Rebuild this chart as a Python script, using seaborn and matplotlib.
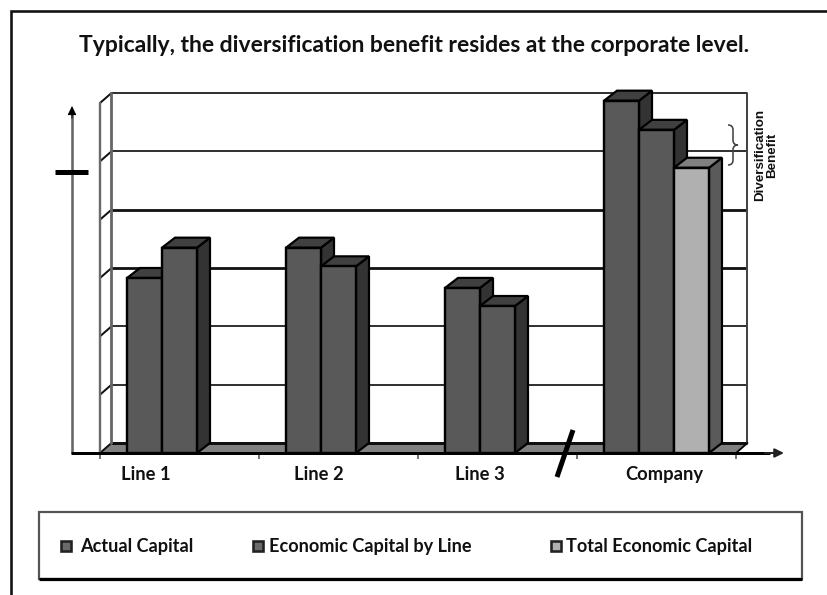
import matplotlib
matplotlib.use("Agg")
import matplotlib.pyplot as plt
from matplotlib.patches import Polygon, Rectangle, PathPatch
from matplotlib.path import Path
import pandas as pd
import seaborn as sns

# ---- data ----
categories = ["Line 1", "Line 2", "Line 3", "Company"]
series_names = ["Actual Capital", "Economic Capital by Line", "Total Economic Capital"]
actual_capital = [3.0, 3.52, 2.83, 6.04]
economic_by_line = [3.52, 3.2, 2.52, 5.54]
total_economic = [None, None, None, 4.89]
title = "Typically, the diversification benefit resides at the corporate level."
side_note = "Diversification\nBenefit"

sns.set_theme(style="white")
FONT = "Lato"
W, H = 828, 595
fig = plt.figure(figsize=(W / 100, H / 100), dpi=100, facecolor="white")
px = 0.72  # one pixel in points

# ---- tidy table ----
rows = []
for name, vals in zip(series_names, [actual_capital, economic_by_line, total_economic]):
    for c, v in zip(categories, vals):
        if v is not None:
            rows.append({"category": c, "series": name, "value": v})
df = pd.DataFrame(rows)

# ---- main axes: x in category slots, y in value units ----
X0, X1, Y0, Y1 = 100, 736, 453, 103
ax = fig.add_axes([X0 / W, 1 - Y0 / H, (X1 - X0) / W, (Y0 - Y1) / H])
ax.patch.set_alpha(0)
face = {"Actual Capital": "#595959", "Economic Capital by Line": "#595959",
        "Total Economic Capital": "#b0b0b0"}
sns.barplot(data=df, x="category", y="value", hue="series", order=categories,
            hue_order=series_names, palette=face, width=0.66, gap=0, dodge=True,
            saturation=1, edgecolor="black", linewidth=2.4 * px, legend=False, ax=ax)
ax.set_xlim(-0.5, 3.5)
ax.set_ylim(0, 6)
ax.set_xlabel("")
ax.set_ylabel("")
for s in ax.spines.values():
    s.set_visible(False)

ux = (X1 - X0) / 4   # pixels per slot
uy = (Y0 - Y1) / 6   # pixels per value unit
wall_dx, wall_dy = 11.5 / ux, 10 / uy
bar_dx, bar_dy = 13 / ux, 10 / uy

# back wall and floor
floor = Polygon([(-0.5, 0), (3.5, 0), (3.5 + wall_dx, wall_dy), (-0.5 + wall_dx, wall_dy)],
                closed=True, facecolor="#808080", edgecolor="none", zorder=1, clip_on=False)
ax.add_patch(floor)
for v in range(0, 7):
    lw = {0: 3, 3: 2.8, 4: 2.8}.get(v, 1.7) * px
    ax.plot([-0.5 + wall_dx, 3.5 + wall_dx], [v + wall_dy] * 2, color="#111111", lw=lw,
            zorder=1.5, clip_on=False, solid_capstyle="butt")
    ax.plot([-0.5, -0.5 + wall_dx], [v, v + wall_dy], color="#111111", lw=2 * px,
            zorder=1.5, clip_on=False)
ax.plot([-0.5, -0.5], [0, 6], color="#6a6a6a", lw=2.4 * px, zorder=1.5, clip_on=False)
ax.plot([-0.5 + wall_dx] * 2, [wall_dy, 6 + wall_dy], color="#666666", lw=2.8 * px, zorder=1.5, clip_on=False)
ax.plot([3.5 + wall_dx] * 2, [wall_dy, 6 + wall_dy], color="#444444", lw=2 * px, zorder=1.5, clip_on=False)
ax.plot([3.5, 3.5 + wall_dx], [0, wall_dy], color="black", lw=1.8 * px, zorder=1.5, clip_on=False)

# third dimension of each bar, derived from the bars seaborn drew
bars = sorted([p for p in ax.patches if isinstance(p, Rectangle) and p.get_height() > 0],
              key=lambda p: p.get_x())
for i, b in enumerate(bars):
    x, w, h = b.get_x(), b.get_width(), b.get_height()
    light = b.get_facecolor()[0] > 0.5
    top_c, side_c = ("#808080", "#5a5a5a") if light else ("#404040", "#333333")
    z = 3 + i
    ax.add_patch(Polygon([(x + w, 0), (x + w + bar_dx, bar_dy), (x + w + bar_dx, h + bar_dy), (x + w, h)],
                         closed=True, facecolor=side_c, edgecolor="black", lw=2.2 * px, zorder=z, clip_on=False))
    ax.add_patch(Polygon([(x, h), (x + bar_dx, h + bar_dy), (x + w + bar_dx, h + bar_dy), (x + w, h)],
                         closed=True, facecolor=top_c, edgecolor="black", lw=2.2 * px, zorder=z, clip_on=False))
    b.set_zorder(z + 0.5)
    b.set_clip_on(False)

# ticks: boundaries as minor marks, names as major labels
ax.set_xticks([-0.5, 0.5, 1.5, 2.5, 3.5], minor=True)
ax.set_xticks([-0.21, 0.877, 1.89, 3.05])
ax.set_xticklabels(categories, fontfamily=FONT, fontweight="bold", fontsize=13.2, color="#111111")
ax.tick_params(axis="x", which="major", length=0, pad=9.5, bottom=False)
ax.tick_params(axis="x", which="minor", length=4.5, width=1.8 * px, color="#666666", bottom=True)
ax.set_yticks([])

# ---- overlay in pixel coordinates for annotation ----
ov = fig.add_axes([0, 0, 1, 1], zorder=10)
ov.set_xlim(0, W)
ov.set_ylim(H, 0)
ov.axis("off")

# outer frame
ov.plot([11, 11, W], [H, 11, 11], color="#111111", lw=2.6 * px, solid_joinstyle="miter")
ov.text(414, 46, title, ha="center", va="center", fontfamily=FONT, fontweight="bold",
        fontsize=16.5, color="#111111")

# axis arrows
ov.plot([72, 72], [112, 453], color="#666666", lw=2.6 * px, solid_capstyle="butt")
ov.annotate("", xy=(72, 106), xytext=(72, 118),
            arrowprops=dict(arrowstyle="-|>,head_width=0.22,head_length=0.45", ec="black", fc="black",
                            lw=1 * px, shrinkA=0, shrinkB=0))
ov.plot([55, 88], [172, 172], color="black", lw=5 * px, solid_capstyle="butt")
ov.plot([71, 770], [453, 453], color="black", lw=3 * px, solid_capstyle="butt")
ov.annotate("", xy=(784, 453), xytext=(765, 453),
            arrowprops=dict(arrowstyle="-|>,head_width=0.22,head_length=0.45", ec="#222222", fc="#222222",
                            lw=2 * px, shrinkA=0, shrinkB=0))
# axis break
ov.plot([573, 557], [430, 477], color="black", lw=5 * px, solid_capstyle="butt")

# diversification brace
brace = Path([(728, 125), (733, 125), (733, 130), (733, 140), (733, 145), (738, 145),
              (733, 145), (733, 150), (733, 160), (733, 165), (728, 165)],
             [Path.MOVETO, Path.CURVE3, Path.CURVE3, Path.LINETO, Path.CURVE3, Path.CURVE3,
              Path.CURVE3, Path.CURVE3, Path.LINETO, Path.CURVE3, Path.CURVE3])
ov.add_patch(PathPatch(brace, fill=False, edgecolor="#444444", lw=1.6 * px))
ov.text(766, 155, side_note, rotation=90, ha="center", va="center", multialignment="center",
        fontfamily="Liberation Sans", fontweight="bold", fontsize=9.6, linespacing=1.0, color="#111111")

# legend box
ov.add_patch(Rectangle((39, 512), 763, 67, facecolor="white", edgecolor="#555555", lw=2.2 * px))
ov.plot([39, 802], [579, 579], color="black", lw=3.2 * px, solid_capstyle="butt")
for name, mx, tx in zip(series_names, [61, 253, 551], [80, 269, 566]):
    c = face[name]
    ov.add_patch(Rectangle((mx, 541), 10, 10, facecolor=c if c != "#595959" else "#6a6a6a",
                           edgecolor="#222222", lw=2.6 * px))
    ov.text(tx, 546.5, name, ha="left", va="center", fontfamily=FONT, fontweight="bold",
            fontsize=13.1, color="#111111")

fig.savefig("out.png", dpi=100, facecolor="white")
